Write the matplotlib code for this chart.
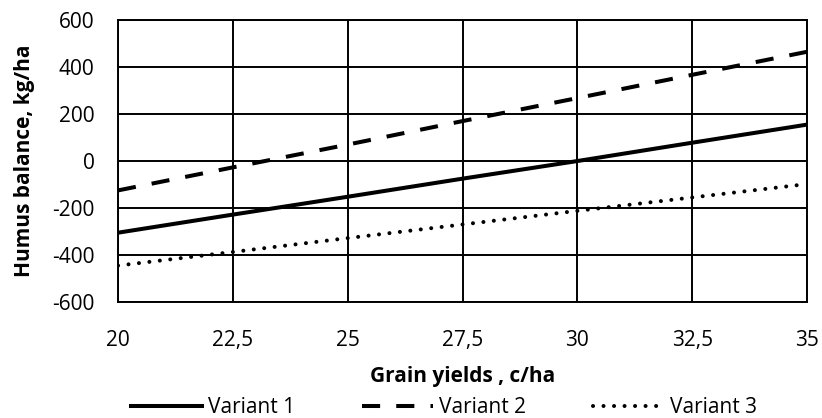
import matplotlib.pyplot as plt
from matplotlib.ticker import FixedLocator

plt.rcParams['font.family'] = ['Open Sans', 'DejaVu Sans']

yields = [20, 22.5, 25, 27.5, 30, 32.5, 35]
variant1 = [-305, -228, -152, -75, 0, 78, 155]
variant2 = [-125, -27, 70, 170, 268, 367, 465]
variant3 = [-445, -387, -328, -270, -212, -155, -98]
x_labels = ['20', '22,5', '25', '27,5', '30', '32,5', '35']
y_ticks = [-600, -400, -200, 0, 200, 400, 600]
y_labels = ['-600', '-400', '-200', '0', '200', '400', '600']

fig = plt.figure(figsize=(8.22, 4.18), dpi=100)
ax = fig.add_axes([0.1436, 0.2775, 0.8382, 0.6745])

lw = 2.9
ax.plot(yields, variant1, color='black', linewidth=lw, linestyle='-', label='Variant 1')
ax.plot(yields, variant2, color='black', linewidth=lw, linestyle=(0, (4.5, 4)), label='Variant 2')
ax.plot(yields, variant3, color='black', linewidth=lw, linestyle=(0, (0.01, 2.6)),
        dash_capstyle='round', label='Variant 3')

ax.set_xlim(20, 35)
ax.set_ylim(-600, 600)
ax.xaxis.set_major_locator(FixedLocator(yields))
ax.set_xticklabels(x_labels)
ax.set_yticks(y_ticks)
ax.set_yticklabels(y_labels)
ax.tick_params(length=0, labelsize=15, pad=17)
ax.tick_params(axis='x', pad=20)
ax.grid(True, color='black', linewidth=1.4)
for s in ax.spines.values():
    s.set_color('black')
    s.set_linewidth(1.4)

ax.set_xlabel('Grain yields , c/ha', fontsize=15, fontweight='bold', labelpad=11)
ax.set_ylabel('Humus balance, kg/ha', fontsize=15, fontweight='bold', labelpad=12)

fig.legend(loc='center', bbox_to_anchor=(0.54, 0.024), ncol=3, frameon=False,
           fontsize=15, handlelength=3.4, handletextpad=0.3, columnspacing=3.2)

fig.savefig('out.png', dpi=100)
